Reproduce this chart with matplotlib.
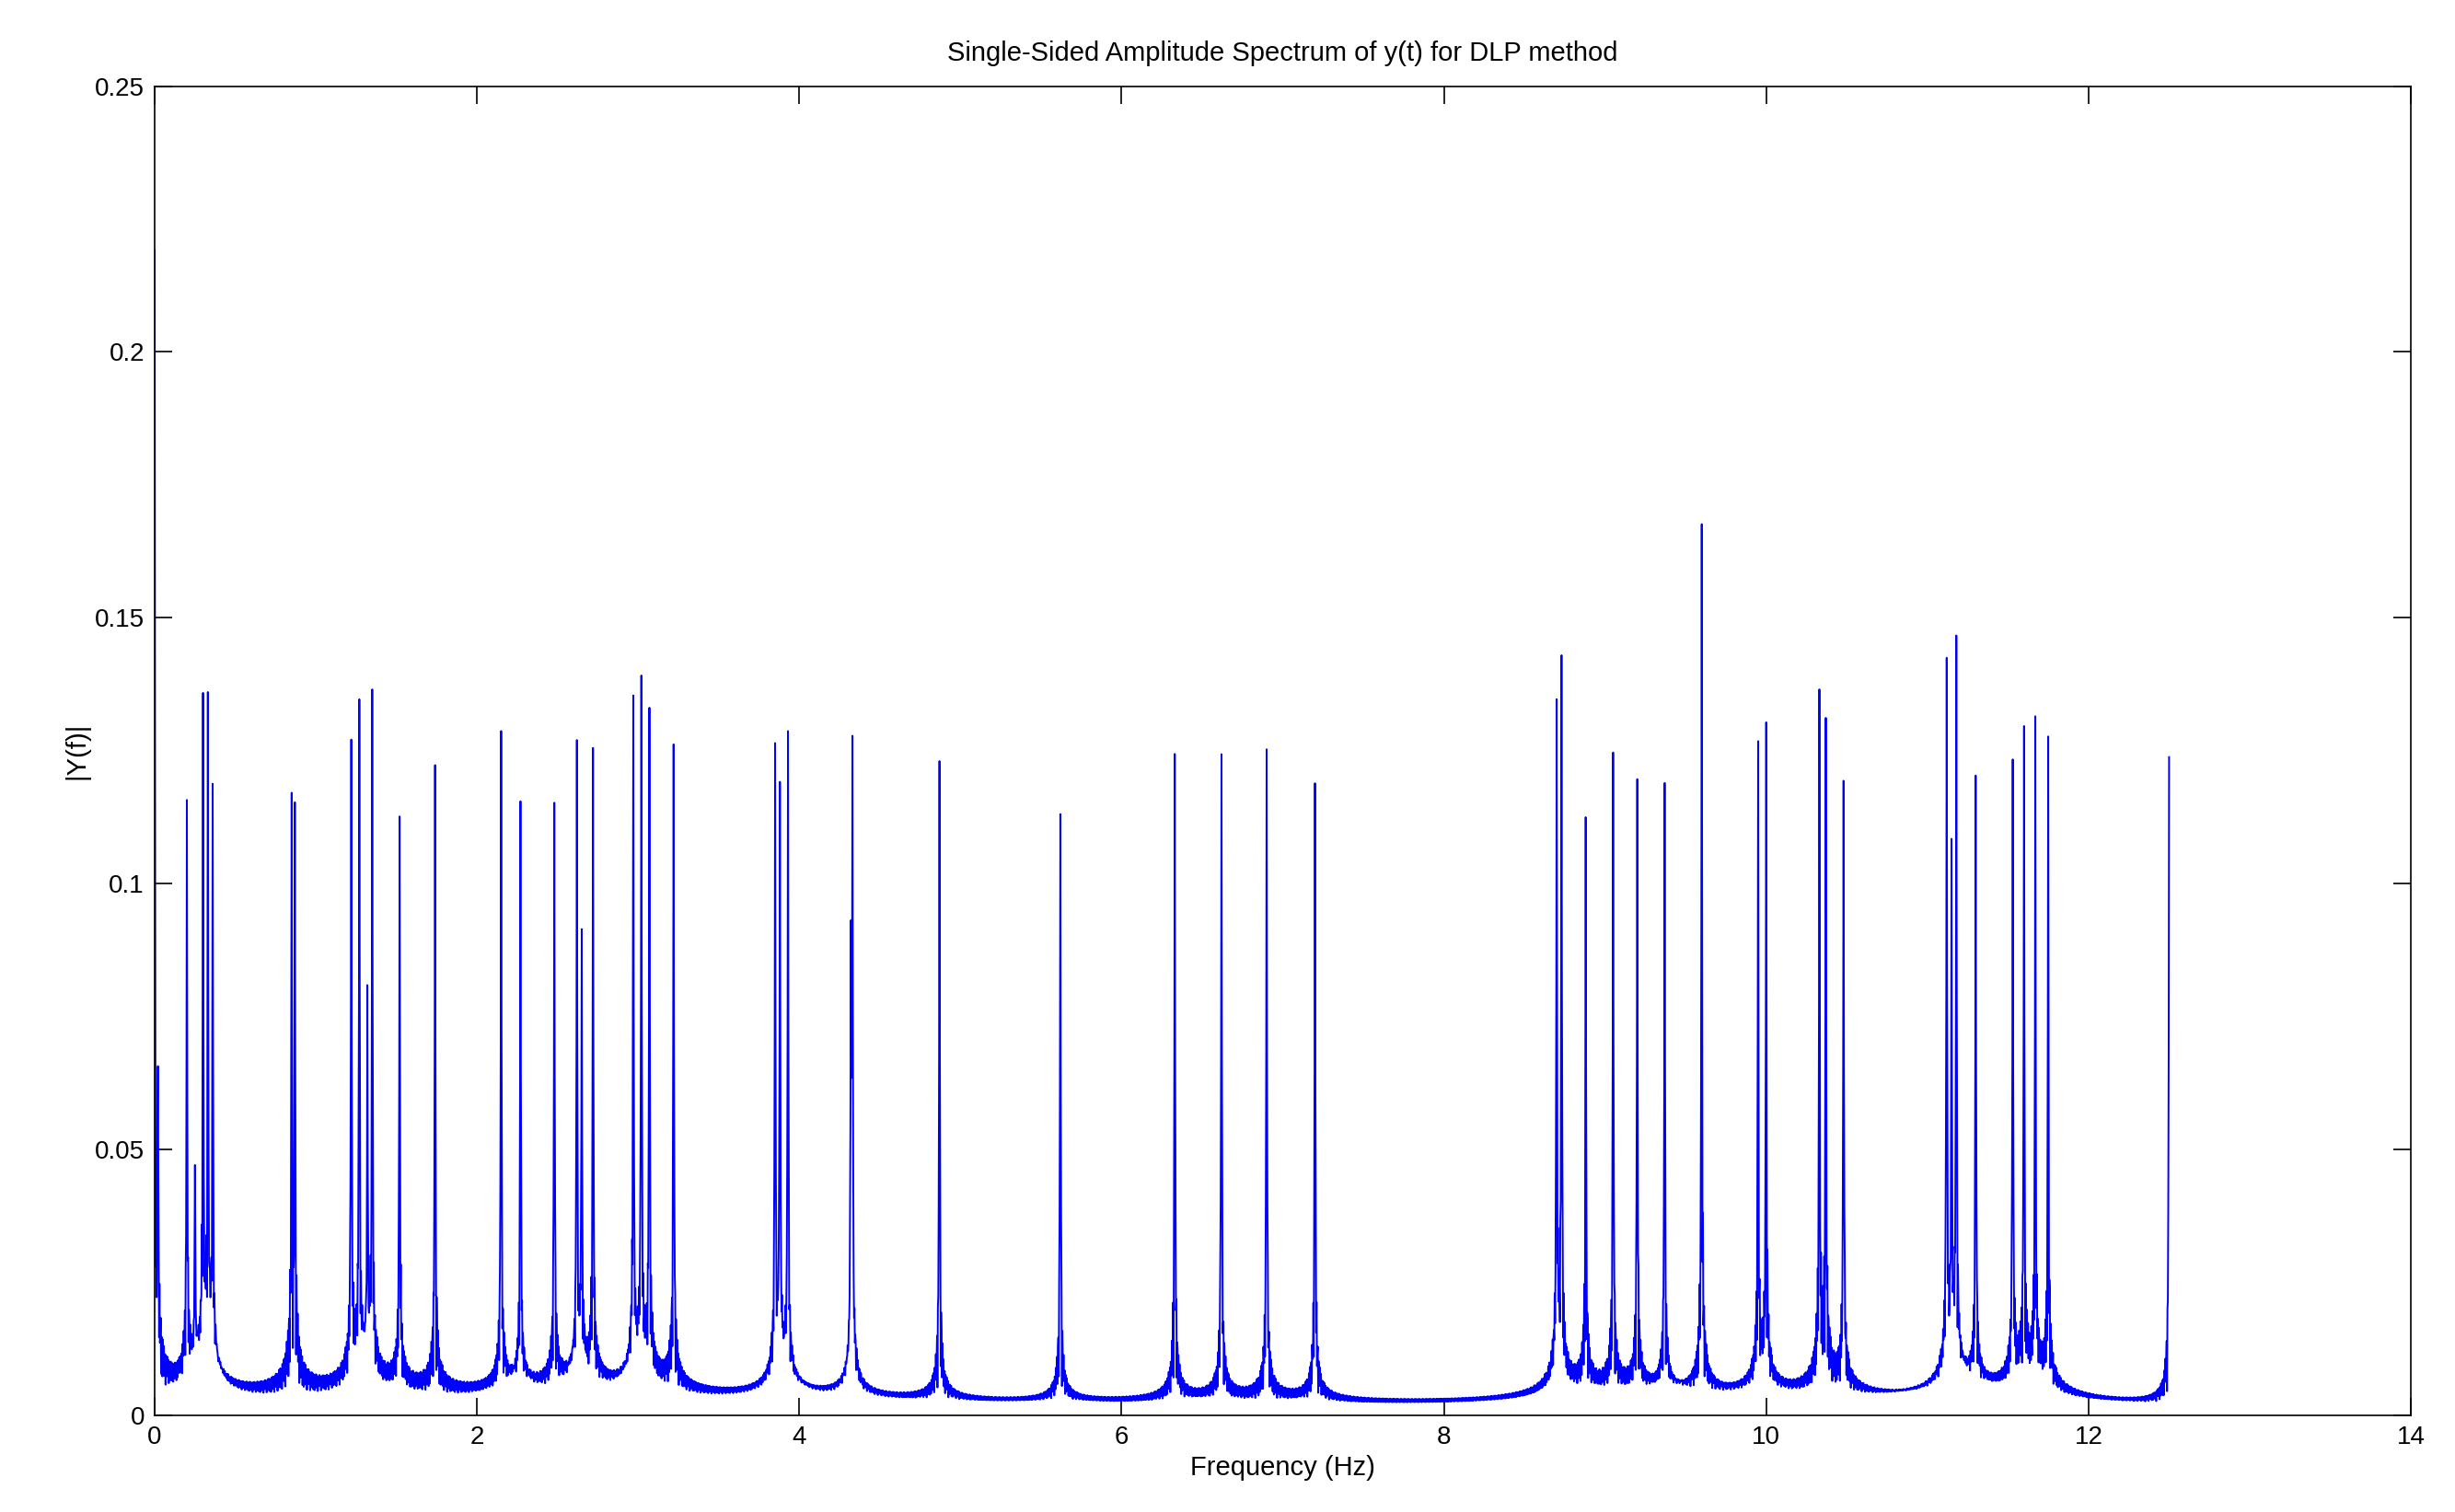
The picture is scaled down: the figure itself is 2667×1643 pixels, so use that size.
import numpy as np
import matplotlib.pyplot as plt

plt.rcParams['font.family'] = ['Liberation Sans', 'DejaVu Sans']

# peak frequencies (Hz) and amplitudes
peak_freq = [0.0, 0.02, 0.2, 0.25, 0.3, 0.33, 0.36, 0.85, 0.87, 1.22, 1.27, 1.32, 1.35,
             1.52, 1.74, 2.15, 2.27, 2.48, 2.62, 2.65, 2.72, 2.97, 3.02, 3.07, 3.22,
             3.85, 3.88, 3.93, 4.32, 4.33, 4.87, 5.62, 6.33, 6.62, 6.9, 7.2,
             8.7, 8.73, 8.88, 9.05, 9.2, 9.37, 9.6, 9.95, 10.0, 10.33, 10.37, 10.48,
             11.12, 11.15, 11.18, 11.3, 11.53, 11.6, 11.67, 11.75, 12.5]
peak_amp = [0.23, 0.062, 0.116, 0.04, 0.133, 0.133, 0.115, 0.12, 0.115, 0.127, 0.135, 0.07, 0.137,
            0.115, 0.127, 0.132, 0.117, 0.117, 0.125, 0.085, 0.127, 0.137, 0.139, 0.135, 0.13,
            0.127, 0.12, 0.131, 0.085, 0.128, 0.129, 0.119, 0.131, 0.131, 0.131, 0.125,
            0.14, 0.145, 0.116, 0.129, 0.123, 0.122, 0.176, 0.13, 0.132, 0.139, 0.135, 0.122,
            0.143, 0.1, 0.145, 0.122, 0.124, 0.132, 0.133, 0.132, 0.131]

f = np.linspace(0, 12.5, 5001)
df = f[1] - f[0]
g = 0.0016
Y = np.zeros_like(f)
for f0, a in zip(peak_freq, peak_amp):
    d = f - f0
    env = 0.93 * a * g / np.sqrt(d**2 + g**2)
    # sinc-like leakage ripple between bins
    ripple = 0.15 + 0.85 * np.abs(np.sin(np.pi * d / (2.7 * df) + f0 * 7))
    ripple[np.abs(d) < 2 * df] = 1.0
    Y += env * ripple

fig = plt.figure(figsize=(26.67, 16.43), dpi=100)
ax = fig.add_axes([0.063, 0.064, 0.919, 0.879])
ax.plot(f, Y, color='#0000ff', linewidth=1.4)
ax.set_xlim(0, 14)
ax.set_ylim(0, 0.25)
ax.set_xticks(np.arange(0, 15, 2))
ax.set_yticks([0, 0.05, 0.1, 0.15, 0.2, 0.25])
ax.set_yticklabels(['0', '0.05', '0.1', '0.15', '0.2', '0.25'])
ax.tick_params(direction='in', top=True, right=True, length=14, width=1.2, labelsize=20, pad=8)
ax.set_xlabel('Frequency (Hz)', fontsize=21, labelpad=4)
ax.set_ylabel('|Y(f)|', fontsize=21)
ax.set_title('Single-Sided Amplitude Spectrum of y(t) for DLP method', fontsize=21, pad=20)
for s in ax.spines.values():
    s.set_linewidth(1.2)
fig.savefig('out.png', dpi=100)
